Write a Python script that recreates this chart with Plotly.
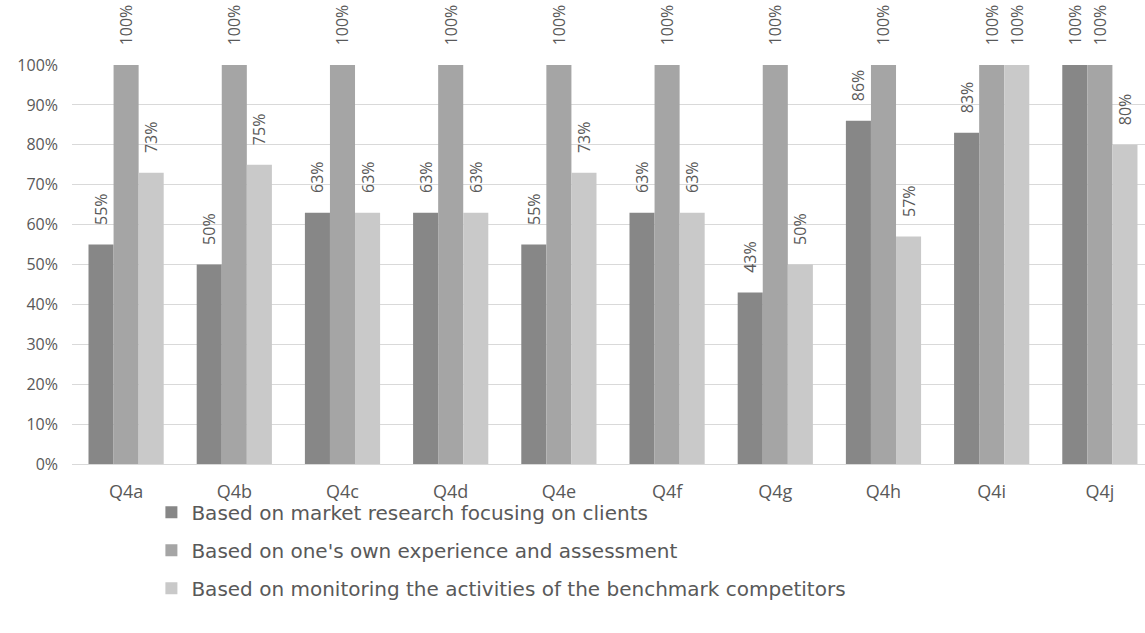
import plotly.graph_objects as go

categories = ["Q4a", "Q4b", "Q4c", "Q4d", "Q4e", "Q4f", "Q4g", "Q4h", "Q4i", "Q4j"]
series_names = [
    "Based on market research focusing on clients",
    "Based on one's own experience and assessment",
    "Based on monitoring the activities of the benchmark competitors",
]
market_research = [55, 50, 63, 63, 55, 63, 43, 86, 83, 100]
own_experience = [100, 100, 100, 100, 100, 100, 100, 100, 100, 100]
benchmark_monitoring = [73, 75, 63, 63, 73, 63, 50, 57, 100, 80]
y_ticks = [0, 10, 20, 30, 40, 50, 60, 70, 80, 90, 100]
y_tick_text = [f"{t}%" for t in y_ticks]

colors = ["#878787", "#a5a5a5", "#c9c9c9"]
FONT = "Open Sans"
TXT = "#595959"
pad = "\u00a0" * 4

fig = go.Figure()
for i, (name, vals) in enumerate(zip(series_names, [market_research, own_experience, benchmark_monitoring])):
    fig.add_trace(go.Bar(
        x=categories, y=vals, name=name,
        marker=dict(color=colors[i], line=dict(width=0)),
        text=[pad + f"{v}%" for v in vals],
        textposition="outside", textangle=-90,
        textfont=dict(family=FONT, size=16, color=TXT),
        constraintext="none", cliponaxis=False,
        legendgroup=f"g{i}",
    ))

fig.update_layout(
    width=1145, height=633,
    margin=dict(l=72, r=0, t=65, b=169, autoexpand=False),
    paper_bgcolor="white", plot_bgcolor="white",
    barmode="group", bargap=0.305, bargroupgap=0,
    font=dict(family=FONT, color=TXT),
    legend=dict(
        orientation="v", bgcolor="rgba(0,0,0,0)",
        x=0.074, xanchor="left", y=-0.072, yanchor="top",
        font=dict(family="DejaVu Sans", size=20, color=TXT),
        tracegroupgap=9, itemclick=False,
    ),
    xaxis=dict(
        range=[-0.5, 9.417], showgrid=False, showline=True, linecolor="#d9d9d9",
        linewidth=1, ticks="", tickfont=dict(family=FONT, size=18, color=TXT),
        ticklabelstandoff=11,
    ),
    yaxis=dict(
        range=[0, 100], tickmode="array", tickvals=y_ticks, ticktext=y_tick_text,
        showgrid=True, gridcolor="#d9d9d9", gridwidth=1, zeroline=False, showline=False,
        tickfont=dict(family=FONT, size=16, color=TXT), ticklabelstandoff=13,
    ),
)

fig.write_html("out.html")
